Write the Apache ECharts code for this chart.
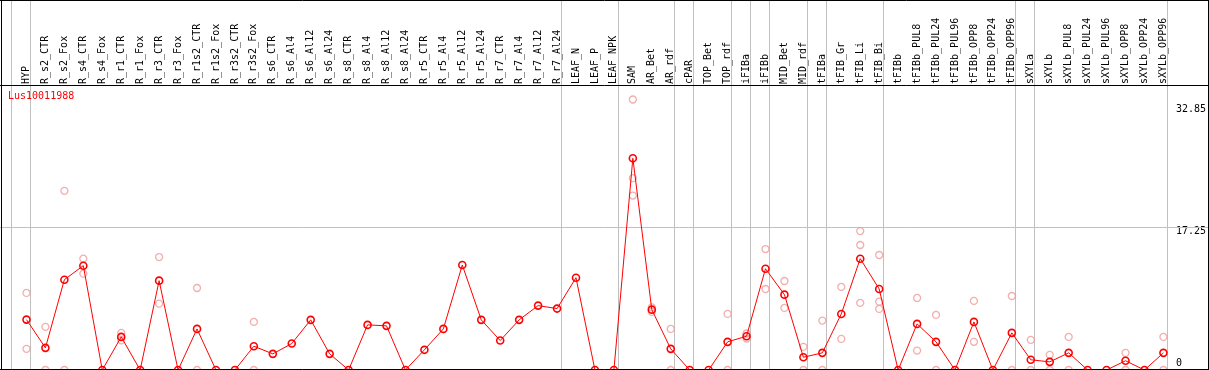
<!DOCTYPE html>
<html>
<head>
<meta charset="utf-8">
<script src="https://cdn.jsdelivr.net/npm/echarts@6/dist/echarts.min.js"></script>
<style>
html,body{margin:0;padding:0;background:#fff;}
#chart{width:1209px;height:370px;}
</style>
</head>
<body>
<div id="chart"></div>
<script>
const geneId = 'Lus10011988';
const categories = ['HYP','R_s2_CTR','R_s2_Fox','R_s4_CTR','R_s4_Fox','R_r1_CTR','R_r1_Fox','R_r3_CTR','R_r3_Fox',
  'R_r1s2_CTR','R_r1s2_Fox','R_r3s2_CTR','R_r3s2_Fox','R_s6_CTR','R_s6_Al4','R_s6_Al12','R_s6_Al24',
  'R_s8_CTR','R_s8_Al4','R_s8_Al12','R_s8_Al24','R_r5_CTR','R_r5_Al4','R_r5_Al12','R_r5_Al24',
  'R_r7_CTR','R_r7_Al4','R_r7_Al12','R_r7_Al24','LEAF_N','LEAF_P','LEAF_NPK','SAM','AR_Bet','AR_rdf',
  'cPAR','TOP_Bet','TOP_rdf','iFIBa','iFIBb','MID_Bet','MID_rdf','tFIBa','tFIB_Gr','tFIB_Li','tFIB_Bi',
  'tFIBb','tFIBb_PUL8','tFIBb_PUL24','tFIBb_PUL96','tFIBb_OPP8','tFIBb_OPP24','tFIBb_OPP96',
  'sXYLa','sXYLb','sXYLb_PUL8','sXYLb_PUL24','sXYLb_PUL96','sXYLb_OPP8','sXYLb_OPP24','sXYLb_OPP96'];
// group sizes (gray separators after each group)
const groupSizes = [1, 28, 3, 3, 1, 2, 1, 1, 2, 1, 3, 7, 1, 7];
const means = [6.12,2.69,10.97,12.67,0,4.02,0,10.85,0,
  4.99,0,0,2.89,1.96,3.21,6.09,1.96,
  0,5.48,5.36,0,2.45,4.99,12.75,6.09,
  3.58,6.09,7.82,7.46,11.21,0,0,25.72,7.33,2.57,
  0,0,3.42,4.10,12.30,9.15,1.55,2.08,6.81,13.52,9.84,
  0,5.60,3.42,0,5.84,0,4.51,
  1.24,0.99,2.08,0,0,1.12,0,2.08];
const rep1 = [9.36,5.24,21.76,13.52,null,4.51,null,13.72,null,
  9.96,null,null,5.84,null,null,null,null,
  null,null,null,null,null,null,null,null,
  null,null,null,null,null,null,null,32.85,7.06,4.99,
  null,null,6.81,4.43,14.69,10.81,2.81,6.00,10.09,16.87,13.97,
  null,8.75,6.69,null,8.39,null,8.99,
  3.66,1.84,4.02,null,null,2.08,null,4.02];
const rep2 = [2.57,0,0,11.70,null,3.60,null,8.06,null,
  0,null,null,0,null,null,null,null,
  null,null,null,null,null,null,null,null,
  null,null,null,null,null,null,null,23.30,7.60,0,
  null,null,0,3.82,9.84,7.54,0,0,3.78,15.18,8.30,
  null,2.36,0,null,3.42,null,0,
  0,0,0,null,null,0,null,0];
const rep3 = [null,null,null,null,null,null,null,null,null,
  null,null,null,null,null,null,null,null,
  null,null,null,null,null,null,null,null,
  null,null,null,null,null,null,null,21.19,null,null,
  null,null,null,null,null,null,null,null,null,8.15,7.42,
  null,null,null,null,null,null,null,
  null,null,null,null,null,null,null,null];
const yTicks = [0, 17.25, 32.85];
const yMax = 34.4925;

const FONT = '"DejaVu Sans Mono", monospace';

const repData = [];
[rep1, rep2, rep3].forEach(arr => arr.forEach((v, i) => { if (v !== null) repData.push([i, v]); }));

const sepValues = [-1];
let acc = -1;
groupSizes.forEach(g => { acc += g; sepValues.push(acc); });
const SEP_OFF = 0.22;

const chart = echarts.init(document.getElementById('chart'), null, {renderer: 'canvas'});
chart.setOption({
  animation: false,
  backgroundColor: '#fff',
  grid: {left: 17, right: 33, top: 86, height: 284.5, containLabel: false},
  xAxis: [{
    type: 'category', position: 'top', data: categories, boundaryGap: true,
    axisLine: {show: false}, axisTick: {show: false}, splitLine: {show: false},
    axisLabel: {interval: 0, rotate: 90, margin: 2, fontFamily: FONT, fontSize: 10, color: '#000'}
  }, {
    type: 'value', min: -0.5, max: categories.length - 0.5, show: false
  }],
  yAxis: {
    type: 'value', position: 'right', min: 0, max: yMax,
    axisLine: {show: false}, axisTick: {show: false}, splitLine: {show: false},
    axisLabel: {
      customValues: yTicks, margin: 3, fontFamily: FONT, fontSize: 10, color: '#000',
      verticalAlign: 'middle',
      formatter: v => {
        const s = String(v);
        if (v === yTicks[0]) return '{b|' + s + '}';
        if (v === yTicks[1]) return '{m|' + s + '}';
        return '{t|' + s + '}';
      },
      rich: {
        b: {fontFamily: FONT, fontSize: 10, color: '#000', padding: [0, 0, 14, 0]},
        m: {fontFamily: FONT, fontSize: 10, color: '#000', padding: [6, 0, 0, 0]},
        t: {fontFamily: FONT, fontSize: 10, color: '#000', padding: [19, 0, 0, 0]}
      }
    }
  },
  series: [{
    type: 'custom', xAxisIndex: 1, yAxisIndex: 0, silent: true, clip: false, z: 1,
    data: sepValues.map(v => [v + SEP_OFF]),
    renderItem: (params, api) => {
      const x = Math.round(api.coord([api.value(0), 0])[0] - 0.5) + 0.5;
      return {type: 'line', shape: {x1: x, y1: 0, x2: x, y2: 369}, style: {stroke: '#c0c0c0', lineWidth: 1}};
    }
  }, {
    type: 'custom', xAxisIndex: 1, yAxisIndex: 0, silent: true, clip: false, z: 1,
    data: [[0, yTicks[1]]],
    renderItem: (params, api) => {
      const y = Math.round(api.coord([0, api.value(1)])[1] - 0.5) + 0.5;
      return {type: 'line', shape: {x1: 0, y1: y, x2: 1209, y2: y}, style: {stroke: '#c0c0c0', lineWidth: 1}};
    }
  }, {
    type: 'scatter', xAxisIndex: 0, data: repData, clip: false, z: 3,
    symbol: 'circle', symbolSize: 7,
    itemStyle: {color: 'rgba(0,0,0,0)', borderColor: '#f09a9a', borderWidth: 1.3}
  }, {
    type: 'line', xAxisIndex: 0, data: means, clip: false, z: 4,
    symbol: 'circle', symbolSize: 7, showAllSymbol: true,
    lineStyle: {color: '#ff0000', width: 1},
    itemStyle: {color: 'rgba(0,0,0,0)', borderColor: '#ff0000', borderWidth: 1.6}
  }],
  graphic: [
    {type: 'line', z: 100, silent: true, shape: {x1: 0, y1: 0.5, x2: 1209, y2: 0.5}, style: {stroke: '#000', lineWidth: 1}},
    {type: 'line', z: 100, silent: true, shape: {x1: 0, y1: 85.5, x2: 1209, y2: 85.5}, style: {stroke: '#000', lineWidth: 1}},
    {type: 'line', z: 100, silent: true, shape: {x1: 0, y1: 369.5, x2: 1209, y2: 369.5}, style: {stroke: '#000', lineWidth: 1}},
    {type: 'line', z: 100, silent: true, shape: {x1: 1.5, y1: 0, x2: 1.5, y2: 370}, style: {stroke: '#000', lineWidth: 1}},
    {type: 'line', z: 100, silent: true, shape: {x1: 1208.5, y1: 0, x2: 1208.5, y2: 370}, style: {stroke: '#000', lineWidth: 1}},
    {type: 'text', z: 100, silent: true, left: 8, top: 91, style: {text: geneId, fill: '#ff0000', font: '10px ' + FONT}}
  ]
});
</script>
</body>
</html>
